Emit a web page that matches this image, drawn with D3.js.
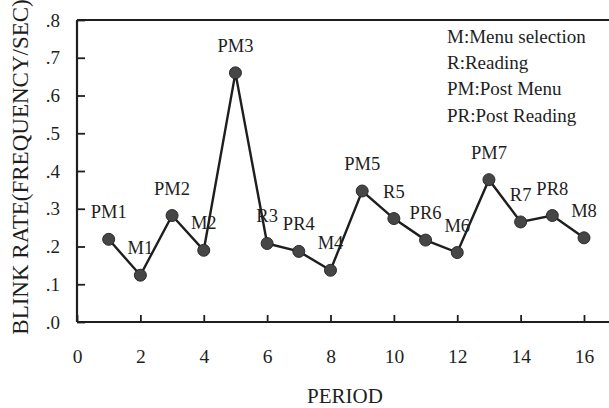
<!DOCTYPE html>
<html>
<head>
<meta charset="utf-8">
<script src="https://cdn.jsdelivr.net/npm/d3@7"></script>
<style>
  html, body { margin: 0; padding: 0; background: #fff; }
  svg { display: block; font-family: "Liberation Serif", "Times New Roman", serif; }
</style>
</head>
<body>
<div id="chart"></div>
<script>
// Data
const periods = [1, 2, 3, 4, 5, 6, 7, 8, 9, 10, 11, 12, 13, 14, 15, 16];
const blinkRates = [0.219, 0.124, 0.282, 0.190, 0.660, 0.208, 0.187, 0.137,
                    0.347, 0.274, 0.217, 0.184, 0.377, 0.265, 0.282, 0.223];
const pointLabels = ['PM1', 'M1', 'PM2', 'M2', 'PM3', 'R3', 'PR4', 'M4',
                     'PM5', 'R5', 'PR6', 'M6', 'PM7', 'R7', 'PR8', 'M8'];
const xTicks = [0, 2, 4, 6, 8, 10, 12, 14, 16];
const yTicks = [0, 0.1, 0.2, 0.3, 0.4, 0.5, 0.6, 0.7, 0.8];
const yTickLabels = ['.0', '.1', '.2', '.3', '.4', '.5', '.6', '.7', '.8'];
const legendLines = ['M:Menu selection', 'R:Reading', 'PM:Post Menu', 'PR:Post Reading'];

const width = 609, height = 408;
const margin = {top: 20, right: 25, bottom: 86, left: 77};
const ink = '#1e1e1e';

const svg = d3.select('#chart')
    .append('svg')
    .attr('width', width)
    .attr('height', height);

const x = d3.scaleLinear()
    .domain([0, 16])
    .range([margin.left, width - margin.right]);

const y = d3.scaleLinear()
    .domain([0, 0.8])
    .range([height - margin.bottom, margin.top]);

// Y axis (ticks point inward)
svg.append('g')
    .attr('transform', `translate(${margin.left},0)`)
    .call(d3.axisLeft(y)
        .tickValues(yTicks)
        .tickFormat((d, i) => yTickLabels[i])
        .tickSize(-8)
        .tickPadding(17)
    )
    .call(g => g.select('.domain').remove())
    .call(g => g.selectAll('line').attr('stroke', ink).attr('stroke-width', 1.8))
    .call(g => g.selectAll('text')
        .attr('font-size', '19px')
        .attr('font-family', 'Liberation Serif, serif')
        .attr('fill', ink));

// X axis (ticks point inward)
svg.append('g')
    .attr('transform', `translate(0,${y(0)})`)
    .call(d3.axisBottom(x)
        .tickValues(xTicks)
        .tickFormat(d3.format('d'))
        .tickSize(-7)
        .tickPadding(27)
    )
    .call(g => g.select('.domain').remove())
    .call(g => g.selectAll('line').attr('stroke', ink).attr('stroke-width', 1.8))
    .call(g => g.selectAll('text')
        .attr('font-size', '19.5px')
        .attr('font-family', 'Liberation Serif, serif')
        .attr('fill', ink));

// Frame: left, bottom, top (open to the right edge)
const frame = svg.append('g')
    .attr('stroke', ink)
    .attr('stroke-width', 2.2)
    .attr('fill', 'none');
frame.append('line')
    .attr('x1', margin.left).attr('x2', margin.left)
    .attr('y1', y(0.8)).attr('y2', y(0));
frame.append('line')
    .attr('x1', margin.left).attr('x2', width)
    .attr('y1', y(0)).attr('y2', y(0));
frame.append('line')
    .attr('x1', margin.left).attr('x2', width)
    .attr('y1', y(0.8)).attr('y2', y(0.8));

// Series line
const points = periods.map((p, i) => ({period: p, value: blinkRates[i], label: pointLabels[i]}));

svg.append('path')
    .datum(points)
    .attr('fill', 'none')
    .attr('stroke', ink)
    .attr('stroke-width', 2.4)
    .attr('stroke-linejoin', 'miter')
    .attr('d', d3.line().x(d => x(d.period)).y(d => y(d.value)));

// Markers
svg.selectAll('.dot')
    .data(points)
    .enter()
    .append('circle')
    .attr('class', 'dot')
    .attr('cx', d => x(d.period))
    .attr('cy', d => y(d.value))
    .attr('r', 6)
    .attr('fill', '#464646')
    .attr('stroke', '#2a2a2a')
    .attr('stroke-width', 1);

// Point labels
svg.selectAll('.pt-label')
    .data(points)
    .enter()
    .append('text')
    .attr('class', 'pt-label')
    .attr('x', d => x(d.period))
    .attr('y', d => y(d.value) - 21)
    .attr('text-anchor', 'middle')
    .attr('font-size', '18.5px')
    .attr('fill', ink)
    .text(d => d.label);

// Legend text
svg.selectAll('.legend')
    .data(legendLines)
    .enter()
    .append('text')
    .attr('class', 'legend')
    .attr('x', 447)
    .attr('y', (d, i) => 43 + i * 26.2)
    .attr('font-size', '19px')
    .attr('fill', ink)
    .text(d => d);

// Axis titles
svg.append('text')
    .attr('x', 345)
    .attr('y', 403)
    .attr('text-anchor', 'middle')
    .attr('font-size', '21px')
    .attr('fill', ink)
    .text('PERIOD');

svg.append('text')
    .attr('transform', 'translate(28,167) rotate(-90)')
    .attr('text-anchor', 'middle')
    .attr('font-size', '23px')
    .attr('fill', ink)
    .text('BLINK RATE(FREQUENCY/SEC)');
</script>
</body>
</html>
